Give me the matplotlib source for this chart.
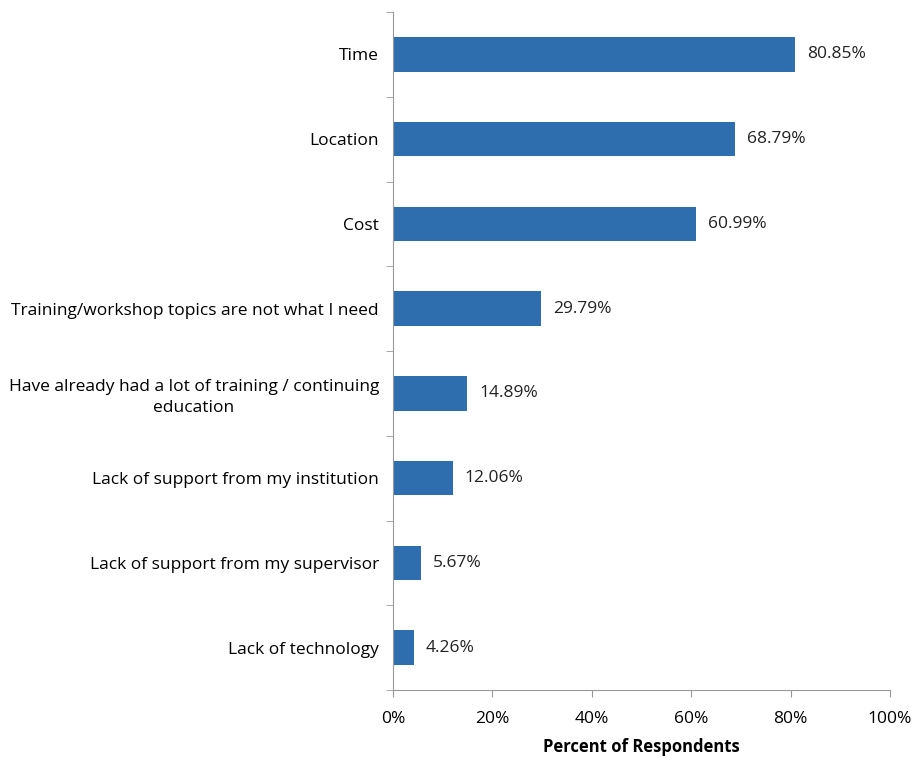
import matplotlib.pyplot as plt
import numpy as np

plt.rcParams['font.family'] = ['Open Sans', 'DejaVu Sans']

categories = [
    "Time",
    "Location",
    "Cost",
    "Training/workshop topics are not what I need",
    "Have already had a lot of training / continuing\neducation",
    "Lack of support from my institution",
    "Lack of support from my supervisor",
    "Lack of technology",
]
values = [80.85, 68.79, 60.99, 29.79, 14.89, 12.06, 5.67, 4.26]
x_ticks = [0, 20, 40, 60, 80, 100]

fig = plt.figure(figsize=(9.15, 7.74), dpi=100)
ax = fig.add_axes([393 / 915, 84 / 774, 497 / 915, 678 / 774])

y = np.arange(len(categories))[::-1]
ax.barh(y, values, height=0.41, color='#2E6EAE')

for yi, v in zip(y, values):
    ax.text(v + 2.4, yi, f"{v:.2f}%", va='center', ha='left', fontsize=12.5, color='#222222')

ax.set_xlim(0, 100)
ax.set_ylim(-0.5, len(categories) - 0.5)
ax.set_xticks(x_ticks)
ax.set_xticklabels([f"{t}%" for t in x_ticks], fontsize=12.5)
ax.set_yticks(y)
ax.set_yticklabels(categories, fontsize=12.5, ha='right', multialignment='center',
                   linespacing=1.4)
ax.tick_params(axis='y', which='major', length=0, pad=10)

# boundary ticks on y axis
ax.set_yticks(np.arange(-0.5, len(categories)), minor=True)
ax.tick_params(axis='y', which='minor', length=5, color='#999999', direction='out')
ax.tick_params(axis='x', length=5, color='#999999', direction='out', pad=10)

for s in ['top', 'right']:
    ax.spines[s].set_visible(False)
for s in ['left', 'bottom']:
    ax.spines[s].set_color('#999999')

ax.set_xlabel('Percent of Respondents', fontsize=12, fontweight='bold', labelpad=8)

fig.savefig('out.png', dpi=100)
